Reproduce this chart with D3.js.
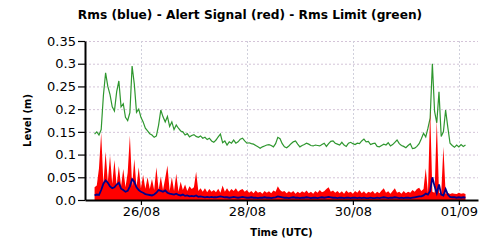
<!DOCTYPE html>
<html>
<head>
<meta charset="utf-8">
<script src="https://cdn.jsdelivr.net/npm/d3@7"></script>
<style>
  html, body { margin: 0; padding: 0; background: #fff; }
  svg { display: block; font-family: "DejaVu Sans", Verdana, sans-serif; }
</style>
</head>
<body>
<svg id="chart" width="500" height="250"></svg>
<script>
// hourly samples, first one at 25/08 03:00 UTC
const seriesStart = '2023-08-25T03:00:00Z';
const stepHours = 1;

// Rms Limit (green), h3..h171
const rmsLimit = [
  0.145, 0.150, 0.143, 0.155, 0.230, 0.280, 0.250, 0.232, 0.205, 0.196,
  0.238, 0.262, 0.205, 0.212, 0.182, 0.175, 0.192, 0.295, 0.255, 0.193,
  0.200, 0.182, 0.172, 0.158, 0.152, 0.146, 0.143, 0.138, 0.141, 0.165,
  0.198, 0.183, 0.172, 0.184, 0.162, 0.172, 0.155, 0.165, 0.158, 0.152,
  0.150, 0.143, 0.146, 0.139, 0.142, 0.144, 0.140, 0.138, 0.141, 0.136,
  0.138, 0.133, 0.136, 0.130, 0.127, 0.132, 0.139, 0.145, 0.126, 0.130,
  0.121, 0.128, 0.125, 0.132, 0.125, 0.128, 0.134, 0.136, 0.130, 0.125,
  0.126, 0.124, 0.123, 0.120, 0.117, 0.114, 0.117, 0.119, 0.121, 0.122,
  0.120, 0.117, 0.124, 0.138, 0.135, 0.124, 0.117, 0.115, 0.119, 0.124,
  0.128, 0.130, 0.123, 0.117, 0.120, 0.122, 0.125, 0.123, 0.120, 0.119,
  0.121, 0.120, 0.119, 0.122, 0.125, 0.118, 0.124, 0.129, 0.130, 0.125,
  0.123, 0.121, 0.127, 0.121, 0.118, 0.125, 0.127, 0.124, 0.122, 0.125,
  0.124, 0.130, 0.134, 0.128, 0.129, 0.122, 0.124, 0.125, 0.118, 0.117,
  0.120, 0.123, 0.121, 0.126, 0.119, 0.122, 0.127, 0.132, 0.124, 0.120,
  0.118, 0.115, 0.120, 0.124, 0.113, 0.114, 0.118, 0.124, 0.135, 0.147,
  0.139, 0.158, 0.180, 0.300, 0.195, 0.170, 0.238, 0.140, 0.150, 0.198,
  0.160, 0.125, 0.120, 0.116, 0.121, 0.117, 0.122, 0.118, 0.121
];

// Alert Signal (red)
const alertSignal = [
  0.028, 0.032, 0.070, 0.148, 0.035, 0.106, 0.040, 0.098, 0.035, 0.088,
  0.032, 0.075, 0.030, 0.068, 0.028, 0.060, 0.142, 0.030, 0.090, 0.028,
  0.072, 0.026, 0.055, 0.025, 0.050, 0.024, 0.046, 0.022, 0.072, 0.022,
  0.052, 0.022, 0.048, 0.076, 0.020, 0.050, 0.020, 0.058, 0.018, 0.040,
  0.022, 0.034, 0.020, 0.030, 0.024, 0.028, 0.062, 0.020, 0.026, 0.018,
  0.026, 0.017, 0.024, 0.018, 0.022, 0.017, 0.025, 0.016, 0.032, 0.018,
  0.026, 0.018, 0.024, 0.020, 0.026, 0.018, 0.022, 0.024, 0.018, 0.022,
  0.016, 0.020, 0.015, 0.021, 0.016, 0.018, 0.014, 0.020, 0.016, 0.019,
  0.015, 0.021, 0.018, 0.030, 0.022, 0.018, 0.020, 0.015, 0.019, 0.016,
  0.020, 0.014, 0.018, 0.015, 0.019, 0.016, 0.021, 0.015, 0.018, 0.014,
  0.020, 0.016, 0.022, 0.017, 0.019, 0.024, 0.028, 0.018, 0.021, 0.016,
  0.020, 0.015, 0.019, 0.014, 0.021, 0.016, 0.018, 0.014, 0.020, 0.016,
  0.022, 0.015, 0.019, 0.014, 0.018, 0.016, 0.020, 0.014, 0.018, 0.015,
  0.021, 0.026, 0.016, 0.019, 0.014, 0.020, 0.026, 0.016, 0.018, 0.014,
  0.020, 0.015, 0.018, 0.016, 0.022, 0.018, 0.024, 0.027, 0.020, 0.024,
  0.070, 0.016, 0.198, 0.018, 0.016, 0.176, 0.016, 0.014, 0.117, 0.014,
  0.016, 0.013, 0.015, 0.014, 0.013, 0.016, 0.014, 0.015, 0.013
];

// Rms (blue)
const rms = [
  0.010, 0.012, 0.011, 0.022, 0.036, 0.043, 0.038, 0.030, 0.026, 0.028,
  0.034, 0.038, 0.025, 0.022, 0.018, 0.020, 0.030, 0.046, 0.040, 0.028,
  0.022, 0.018, 0.016, 0.013, 0.012, 0.011, 0.010, 0.012, 0.016, 0.022,
  0.020, 0.018, 0.021, 0.016, 0.014, 0.013, 0.012, 0.014, 0.011, 0.010,
  0.012, 0.009, 0.010, 0.008, 0.009, 0.008, 0.010, 0.007, 0.008, 0.007,
  0.006, 0.007, 0.006, 0.007, 0.006, 0.006, 0.007, 0.008, 0.007, 0.006,
  0.006, 0.005, 0.006, 0.007, 0.006, 0.005, 0.006, 0.007, 0.006, 0.005,
  0.005, 0.006, 0.005, 0.005, 0.004, 0.005, 0.005, 0.006, 0.005, 0.005,
  0.004, 0.005, 0.006, 0.008, 0.007, 0.006, 0.005, 0.005, 0.004, 0.005,
  0.006, 0.005, 0.005, 0.004, 0.005, 0.005, 0.006, 0.005, 0.004, 0.005,
  0.005, 0.004, 0.005, 0.006, 0.005, 0.006, 0.007, 0.006, 0.005, 0.005,
  0.004, 0.005, 0.005, 0.004, 0.005, 0.005, 0.004, 0.005, 0.005, 0.004,
  0.005, 0.004, 0.005, 0.004, 0.004, 0.005, 0.004, 0.004, 0.005, 0.004,
  0.005, 0.006, 0.005, 0.004, 0.005, 0.005, 0.006, 0.005, 0.004, 0.005,
  0.004, 0.005, 0.005, 0.004, 0.005, 0.006, 0.007, 0.008, 0.008, 0.010,
  0.014, 0.012, 0.020, 0.050, 0.030, 0.015, 0.034, 0.012, 0.010, 0.024,
  0.012, 0.007, 0.006, 0.006, 0.005, 0.006, 0.005, 0.006, 0.005
];

const xDomain = ['2023-08-24T22:40:00Z', '2023-09-01T08:40:00Z'];
const xTickDates = ['2023-08-26', '2023-08-28', '2023-08-30', '2023-09-01'];
const yTicks = [0, 0.05, 0.1, 0.15, 0.2, 0.25, 0.3, 0.35];
const yTickLabels = ['0.0', '0.05', '0.1', '0.15', '0.2', '0.25', '0.3', '0.35'];

const margin = { top: 41, right: 22, bottom: 50, left: 85 };
const width = 500, height = 250;
const innerW = width - margin.left - margin.right;
const innerH = height - margin.top - margin.bottom;

const t0 = new Date(seriesStart).getTime();
const times = rms.map((_, i) => new Date(t0 + i * stepHours * 3600e3));

const x = d3.scaleUtc().domain(xDomain.map(d => new Date(d))).range([0, innerW]);
const y = d3.scaleLinear().domain([0, 0.35]).range([innerH, 0]);

const svg = d3.select('#chart');

svg.append('text')
  .attr('x', 250)
  .attr('y', 18.5)
  .attr('text-anchor', 'middle')
  .style('font-size', '12.2px')
  .style('font-weight', 'bold')
  .text('Rms (blue) - Alert Signal (red) - Rms Limit (green)');

const g = svg.append('g').attr('transform', `translate(${margin.left},${margin.top})`);

// grid
g.append('g')
  .selectAll('line')
  .data(yTicks.filter(v => v > 0))
  .join('line')
  .attr('x1', 0)
  .attr('x2', innerW)
  .attr('y1', d => y(d) + 0.5)
  .attr('y2', d => y(d) + 0.5)
  .attr('stroke', '#d4c4d8')
  .attr('stroke-dasharray', '2,2');

g.append('g')
  .selectAll('line')
  .data(xTickDates.map(d => new Date(d)))
  .join('line')
  .attr('x1', d => Math.round(x(d)) + 0.5)
  .attr('x2', d => Math.round(x(d)) + 0.5)
  .attr('y1', 0)
  .attr('y2', innerH)
  .attr('stroke', '#d0d0dc')
  .attr('stroke-dasharray', '2,2');

// series
const limitLine = d3.line().x((d, i) => x(times[i])).y(d => y(d));
g.append('path')
  .datum(rmsLimit)
  .attr('d', limitLine)
  .attr('fill', 'none')
  .attr('stroke', '#2f972f')
  .attr('stroke-width', 1.2);

const alertArea = d3.area().x((d, i) => x(times[i])).y0(innerH).y1(d => y(d));
g.append('path')
  .datum(alertSignal)
  .attr('d', alertArea)
  .attr('fill', '#ff0000');

const rmsLine = d3.line().x((d, i) => x(times[i])).y(d => y(d));
g.append('path')
  .datum(rms)
  .attr('d', rmsLine)
  .attr('fill', 'none')
  .attr('stroke', '#00008c')
  .attr('stroke-width', 1.8);

// axes
const xAxis = d3.axisBottom(x)
  .tickValues(xTickDates.map(d => new Date(d)))
  .tickFormat(d3.utcFormat('%d/%m'))
  .tickSize(5)
  .tickSizeOuter(0)
  .tickPadding(2);

const yAxis = d3.axisLeft(y)
  .tickValues(yTicks)
  .tickFormat((d, i) => yTickLabels[i])
  .tickSize(7)
  .tickSizeOuter(0)
  .tickPadding(2);

const xg = g.append('g')
  .attr('transform', `translate(0,${innerH})`)
  .call(xAxis);

const yg = g.append('g').call(yAxis);

[xg, yg].forEach(a => {
  a.select('.domain').attr('stroke', '#000').attr('stroke-width', 2);
  a.selectAll('.tick line').attr('stroke', '#000').attr('stroke-width', 1.2);
  a.selectAll('text')
    .attr('fill', '#000')
    .style('font-size', '13px')
    .style('font-family', '"DejaVu Sans", Verdana, sans-serif');
});

svg.append('text')
  .attr('x', margin.left + innerW / 2)
  .attr('y', 235.5)
  .attr('text-anchor', 'middle')
  .style('font-size', '10px')
  .style('font-weight', 'bold')
  .text('Time (UTC)');

svg.append('text')
  .attr('transform', `translate(30.5,${margin.top + innerH / 2}) rotate(-90)`)
  .attr('text-anchor', 'middle')
  .style('font-size', '10px')
  .style('font-weight', 'bold')
  .text('Level (m)');
</script>
</body>
</html>
